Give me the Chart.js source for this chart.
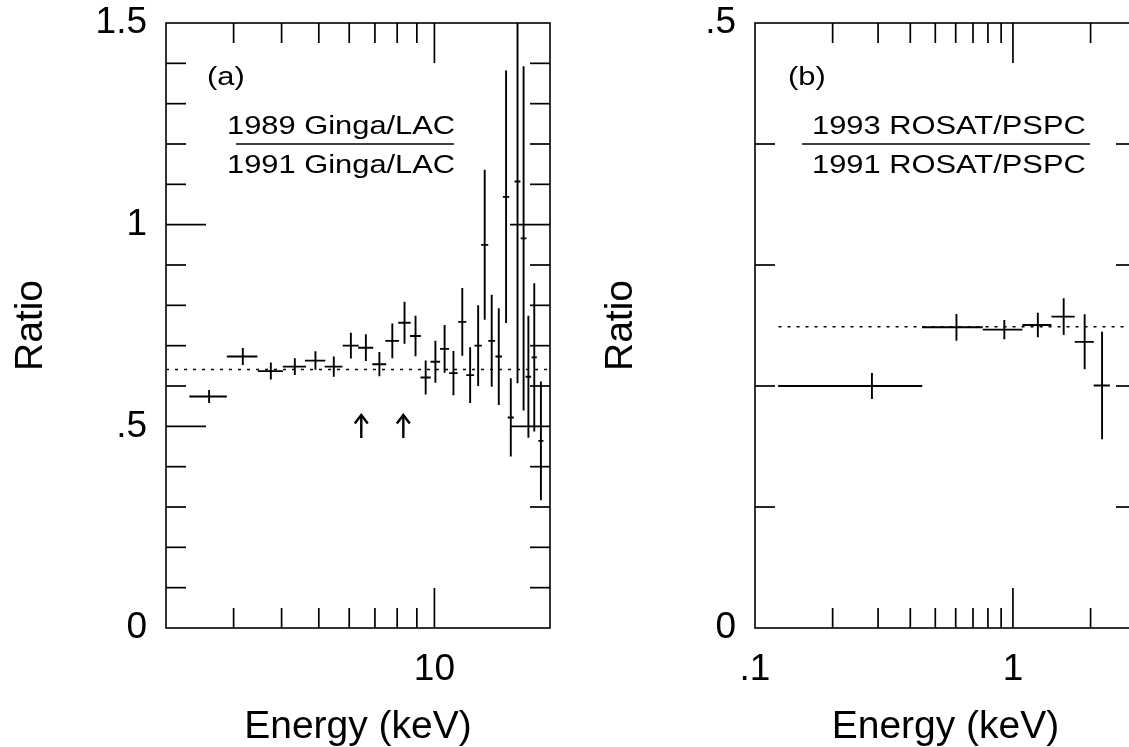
<!DOCTYPE html>
<html><head><meta charset="utf-8">
<script src="https://cdn.jsdelivr.net/npm/chart.js@4"></script>
<style>
html,body{margin:0;padding:0;background:#fff;overflow:hidden;width:1129px;height:747px;position:relative;}
#ca{position:absolute;left:0;top:0;}
#cb{position:absolute;left:590px;top:0;}
</style></head><body>
<canvas id="ca" width="590" height="747" style="width:590px;height:747px"></canvas>
<canvas id="cb" width="596" height="747" style="width:596px;height:747px"></canvas>
<script>
// ---------- Panel (a): 1989 Ginga/LAC / 1991 Ginga/LAC ----------
const energyA    = [2.59, 3.17, 3.75, 4.33, 4.90, 5.47, 6.06, 6.63, 7.19, 7.77, 8.36, 8.93, 9.49, 10.06, 10.63, 11.21, 11.82, 12.39, 13.00, 13.52, 14.10, 14.71, 15.37, 15.81, 16.46, 17.07, 17.57, 18.20, 18.94];
const energyErrA = [0.29, 0.29, 0.28, 0.30, 0.30, 0.29, 0.29, 0.30, 0.30, 0.32, 0.31, 0.29, 0.29, 0.29, 0.29, 0.29, 0.29, 0.29, 0.29, 0.29, 0.29, 0.29, 0.29, 0.29, 0.29, 0.29, 0.29, 0.29, 0.29];
const ratioA     = [0.574, 0.673, 0.637, 0.648, 0.663, 0.648, 0.700, 0.695, 0.654, 0.712, 0.757, 0.724, 0.621, 0.660, 0.692, 0.632, 0.759, 0.627, 0.700, 0.950, 0.712, 0.673, 1.069, 0.522, 1.107, 0.966, 0.623, 0.671, 0.464];
const ratioErrA  = [0.016, 0.021, 0.021, 0.021, 0.023, 0.025, 0.032, 0.033, 0.030, 0.043, 0.052, 0.050, 0.042, 0.052, 0.059, 0.055, 0.084, 0.069, 0.100, 0.186, 0.114, 0.120, 0.313, 0.097, 0.500, 0.427, 0.151, 0.184, 0.147];
const refRatioA  = 0.641;
const refRangeA  = [2, 20];
const arrowEnergyA = [6.45, 8.3];
const arrowSpanA = [0.471, 0.528];
const xRangeA = [2, 20];
const yRangeA = [0, 1.5];
const xLabelValsA = [10];
const xLabelsA = ['10'];
const yLabelValsA = [0, 0.5, 1, 1.5];
const yLabelsA = ['0', '.5', '1', '1.5'];
const xMinorA = [3, 4, 5, 6, 7, 8, 9];
const xMajorA = [10];
const yMinorA = [0.1, 0.2, 0.3, 0.4, 0.6, 0.7, 0.8, 0.9, 1.1, 1.2, 1.3, 1.4];
const yMajorA = [0.5, 1.0];

// ---------- Panel (b): 1993 ROSAT/PSPC / 1991 ROSAT/PSPC ----------
const energyB    = [0.284, 0.604, 0.926, 1.249, 1.573, 1.897, 2.216];
const energyErrB = [0.161, 0.160, 0.162, 0.161, 0.163, 0.161, 0.159];
const ratioB     = [0.200, 0.2485, 0.2466, 0.2504, 0.2573, 0.2365, 0.2004];
const ratioErrB  = [0.0107, 0.011, 0.008, 0.0102, 0.0152, 0.0227, 0.0445];
const refRatioB  = 0.249;
const refRangeB  = [0.1234, 3];
const xRangeB = [0.1, 3];
const yRangeB = [0, 0.5];
const xLabelValsB = [0.1, 1];
const xLabelsB = ['.1', '1'];
const yLabelValsB = [0, 0.5];
const yLabelsB = ['0', '.5'];
const xMinorB = [0.2, 0.3, 0.4, 0.5, 0.6, 0.7, 0.8, 0.9, 2];
const xMajorB = [1];
const yMinorB = [0.1, 0.2, 0.3, 0.4];
const yMajorB = [];

const FONT = "'Liberation Sans', Arial, Helvetica, sans-serif";
Chart.defaults.font.family = FONT;
Chart.defaults.color = '#000';

function crossData(xs, xe, ys, ye) {
  const d = [];
  for (let i = 0; i < xs.length; i++) {
    d.push({x: xs[i] - xe[i], y: ys[i]}, {x: xs[i] + xe[i], y: ys[i]}, {x: xs[i], y: null},
           {x: xs[i], y: ys[i] - ye[i]}, {x: xs[i], y: ys[i] + ye[i]}, {x: xs[i], y: null});
  }
  return d;
}

function makeDecor(cfg) {
  return {
    id: 'decor',
    afterDatasetsDraw(chart) {
      const {ctx, chartArea: a} = chart;
      const xs = chart.scales.x, ys = chart.scales.y;
      ctx.save();
      ctx.strokeStyle = '#000';
      ctx.lineCap = 'butt';
      const seg = (x1, y1, x2, y2) => { ctx.beginPath(); ctx.moveTo(x1, y1); ctx.lineTo(x2, y2); ctx.stroke(); };
      ctx.lineWidth = 1.6;
      ctx.strokeRect(a.left, a.top, a.right - a.left, a.bottom - a.top);
      const xt = (vals, len) => vals.forEach(v => { const p = xs.getPixelForValue(v); seg(p, a.bottom, p, a.bottom - len); seg(p, a.top, p, a.top + len); });
      const yt = (vals, len) => vals.forEach(v => { const p = ys.getPixelForValue(v); seg(a.left, p, a.left + len, p); seg(a.right, p, a.right - len, p); });
      ctx.lineWidth = 1.7;
      xt(cfg.xMinor, 20); xt(cfg.xMajor, 40); yt(cfg.yMinor, 20); yt(cfg.yMajor, 40);
      // arrows
      ctx.lineWidth = 2.4;
      (cfg.arrows || []).forEach(e => {
        const p = xs.getPixelForValue(e);
        const tip = ys.getPixelForValue(cfg.arrowSpan[1]);
        const base = ys.getPixelForValue(cfg.arrowSpan[0]);
        seg(p, base, p, tip);
        ctx.beginPath(); ctx.moveTo(p - 6.5, tip + 8.5); ctx.lineTo(p, tip); ctx.lineTo(p + 6.5, tip + 8.5); ctx.stroke();
      });
      // labels
      ctx.fillStyle = '#000';
      ctx.font = '25.5px ' + FONT;
      ctx.textAlign = 'left';
      ctx.textBaseline = 'alphabetic';
      const st = (t, dx, dy) => { ctx.save(); ctx.translate(a.left + dx, a.top + dy); ctx.scale(1.21, 1); ctx.fillText(t, 0, 0); ctx.restore(); };
      st(cfg.tag, cfg.tagX, 62);
      st(cfg.num, cfg.textX, 111);
      st(cfg.den, cfg.textX, 150);
      ctx.lineWidth = 1.6;
      seg(a.left + cfg.barX[0], a.top + 121, a.left + cfg.barX[1], a.top + 121);
      ctx.restore();
    }
  };
}

function makeChart(id, o) {
  return new Chart(document.getElementById(id), {
    type: 'scatter',
    data: { datasets: [
      { data: [{x: o.refRange[0], y: o.refRatio}, {x: o.refRange[1], y: o.refRatio}],
        showLine: true, borderColor: '#000', borderWidth: 1.6, borderDash: [3, 6], pointRadius: 0 },
      { data: crossData(o.energy, o.energyErr, o.ratio, o.ratioErr),
        showLine: true, spanGaps: false, borderColor: '#000', borderWidth: 1.9, pointRadius: 0 }
    ]},
    options: {
      responsive: false, animation: false, devicePixelRatio: 1, events: [],
      layout: { padding: { top: 23, right: o.padRight, left: 0, bottom: 0 } },
      plugins: { legend: { display: false }, tooltip: { enabled: false } },
      scales: {
        x: {
          type: 'logarithmic', min: o.xRange[0], max: o.xRange[1], position: 'bottom',
          afterBuildTicks: s => { s.ticks = o.xLabelVals.map(v => ({ value: v })); },
          afterFit: s => { s.height = 119; s.paddingLeft = 0; s.paddingRight = 0; },
          ticks: { padding: 20, maxRotation: 0, autoSkip: false, font: { size: 37 }, color: '#000',
                   callback: (v, i) => o.xLabels[i] },
          grid: { display: false, drawTicks: false }, border: { display: false },
          title: { display: true, text: 'Energy (keV)', color: '#000', font: { size: 39, lineHeight: 1 }, padding: { top: 0, bottom: 0 } }
        },
        y: {
          type: 'linear', min: o.yRange[0], max: o.yRange[1], position: 'left',
          afterBuildTicks: s => { s.ticks = o.yLabelVals.map(v => ({ value: v })); },
          afterFit: s => { s.width = o.yWidth; s.paddingTop = 0; s.paddingBottom = 0; },
          ticks: { padding: 19, font: { size: 37 }, color: '#000', callback: (v, i) => o.yLabels[i] },
          grid: { display: false, drawTicks: false }, border: { display: false },
          title: { display: true, text: 'Ratio', color: '#000', font: { size: 39, lineHeight: 1 }, padding: { top: 12, bottom: 0 } }
        }
      }
    },
    plugins: [makeDecor(o.decor)]
  });
}

makeChart('ca', {
  energy: energyA, energyErr: energyErrA, ratio: ratioA, ratioErr: ratioErrA,
  refRatio: refRatioA, refRange: refRangeA, xRange: xRangeA, yRange: yRangeA,
  xLabelVals: xLabelValsA, xLabels: xLabelsA, yLabelVals: yLabelValsA, yLabels: yLabelsA,
  padRight: 40, yWidth: 166,
  decor: { xMinor: xMinorA, xMajor: xMajorA, yMinor: yMinorA, yMajor: yMajorA,
           arrows: arrowEnergyA, arrowSpan: arrowSpanA,
           tag: '(a)', tagX: 41, num: '1989 Ginga/LAC', den: '1991 Ginga/LAC', textX: 61, barX: [70, 288] }
});

makeChart('cb', {
  energy: energyB, energyErr: energyErrB, ratio: ratioB, ratioErr: ratioErrB,
  refRatio: refRatioB, refRange: refRangeB, xRange: xRangeB, yRange: yRangeB,
  xLabelVals: xLabelValsB, xLabels: xLabelsB, yLabelVals: yLabelValsB, yLabels: yLabelsB,
  padRight: 50, yWidth: 165,
  decor: { xMinor: xMinorB, xMajor: xMajorB, yMinor: yMinorB, yMajor: yMajorB,
           arrows: [], arrowSpan: [0, 0],
           tag: '(b)', tagX: 33, num: '1993 ROSAT/PSPC', den: '1991 ROSAT/PSPC', textX: 57, barX: [47, 335] }
});
</script>
</body></html>
